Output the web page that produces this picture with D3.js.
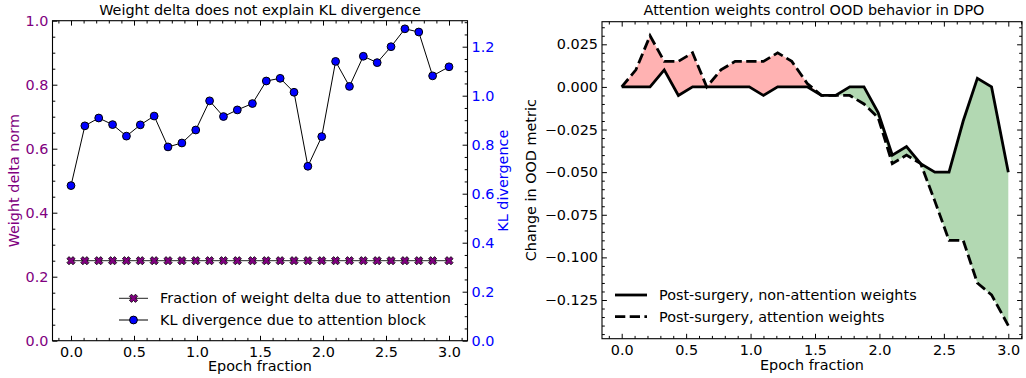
<!DOCTYPE html>
<html>
<head>
<meta charset="utf-8">
<script src="https://d3js.org/d3.v7.min.js"></script>
<style>
  body { margin: 0; background: #fff; }
  svg text { font-family: "DejaVu Sans", sans-serif; font-size: 14.4px; }
</style>
</head>
<body>
<svg id="chart" width="1026" height="378"></svg>
<script>
// ---- data ----
var epochs = [0, 0.11, 0.22, 0.33, 0.44, 0.55, 0.66, 0.77, 0.88, 0.99, 1.1, 1.21, 1.32, 1.44,
              1.55, 1.66, 1.77, 1.88, 1.99, 2.1, 2.21, 2.32, 2.43, 2.54, 2.65, 2.76, 2.87, 3.0];

var attnFraction = epochs.map(function() { return 0.25; });
var klDivergence = [0.633, 0.877, 0.909, 0.882, 0.835, 0.881, 0.917, 0.791, 0.807, 0.860,
                    0.979, 0.915, 0.942, 0.968, 1.060, 1.071, 1.014, 0.712, 0.833, 1.140,
                    1.038, 1.161, 1.135, 1.200, 1.273, 1.260, 1.081, 1.118];

var nonAttnChange = [0, 0, 0, 0.01, -0.005, 0, 0, 0, 0, 0, -0.005, 0, 0, 0,
                     -0.005, -0.005, 0, 0, -0.015, -0.04, -0.035, -0.045, -0.05, -0.05,
                     -0.02, 0.005, 0, -0.05];
var attnChange = [0, 0.01, 0.03, 0.015, 0.015, 0.02, 0, 0.01, 0.015, 0.015, 0.015, 0.02, 0.015, 0.002,
                  -0.005, -0.005, -0.005, -0.01, -0.018, -0.045, -0.04, -0.045, -0.067, -0.09,
                  -0.09, -0.115, -0.122, -0.14];

var xMajor = [0, 0.5, 1, 1.5, 2, 2.5, 3];
var leftYTicks = [0, 0.2, 0.4, 0.6, 0.8, 1.0];
var klTicks = [0, 0.2, 0.4, 0.6, 0.8, 1.0, 1.2];
var oodTicks = [-0.125, -0.1, -0.075, -0.05, -0.025, 0, 0.025];

var titles = ["Weight delta does not explain KL divergence", "Attention weights control OOD behavior in DPO"];
var legendLeft = ["Fraction of weight delta due to attention", "KL divergence due to attention block"];
var legendRight = ["Post-surgery, non-attention weights", "Post-surgery, attention weights"];

var svg = d3.select("#chart");
var PURPLE = "#800080", BLUE = "#0000ff";
var MAJ = 4.9, MIN = 2.8;

function steps(a, b, s) {
  var out = [];
  for (var i = Math.round(a / s); i * s <= b + 1e-9; i++) out.push(+(i * s).toFixed(6));
  return out;
}
function minorOf(list, majors) {
  return list.filter(function(v) {
    return !majors.some(function(m) { return Math.abs(m - v) < 1e-9; });
  });
}

function addAxis(g, axis) {
  g.call(axis);
  g.select(".domain").remove();
  g.selectAll(".tick line").attr("stroke", "#000");
  g.selectAll(".tick text").attr("font-size", null).attr("font-family", null);
  return g;
}

// ---- left panel ----
var L = {x0: 52.5, x1: 467.5, y0: 20.7, y1: 340.7};
var xL = d3.scaleLinear().domain([0, 3]).range([71, 449]);
var yL = d3.scaleLinear().domain([0, 1]).range([L.y1, L.y0]);
var yK = d3.scaleLinear().domain([0, 1.2]).range([L.y1, 46.7]);

var xMinorL = minorOf(steps(-0.1, 3.1, 0.1), xMajor);

var gl = svg.append("g");
addAxis(gl.append("g").attr("transform", "translate(0," + L.y1 + ")"),
  d3.axisBottom(xL).tickValues(xMajor).tickSize(-MAJ).tickPadding(6).tickFormat(d3.format(".1f")));
addAxis(gl.append("g").attr("transform", "translate(0," + L.y1 + ")"),
  d3.axisBottom(xL).tickValues(xMinorL).tickSize(-MIN).tickFormat(""));
addAxis(gl.append("g").attr("transform", "translate(0," + L.y0 + ")"),
  d3.axisTop(xL).tickValues(xMajor).tickSize(-MAJ).tickFormat(""));
addAxis(gl.append("g").attr("transform", "translate(0," + L.y0 + ")"),
  d3.axisTop(xL).tickValues(xMinorL).tickSize(-MIN).tickFormat(""));

var ly = addAxis(gl.append("g").attr("transform", "translate(" + L.x0 + ",0)"),
  d3.axisLeft(yL).tickValues(leftYTicks).tickSize(-MAJ).tickPadding(4).tickFormat(d3.format(".1f")));
ly.selectAll(".tick text").attr("fill", PURPLE);
addAxis(gl.append("g").attr("transform", "translate(" + L.x0 + ",0)"),
  d3.axisLeft(yL).tickValues(minorOf(steps(0, 1, 0.05), leftYTicks)).tickSize(-MIN).tickFormat(""));

var ky = addAxis(gl.append("g").attr("transform", "translate(" + L.x1 + ",0)"),
  d3.axisRight(yK).tickValues(klTicks).tickSize(-MAJ).tickPadding(4).tickFormat(d3.format(".1f")));
ky.selectAll(".tick text").attr("fill", BLUE);
addAxis(gl.append("g").attr("transform", "translate(" + L.x1 + ",0)"),
  d3.axisRight(yK).tickValues(minorOf(steps(0, 1.3, 0.05), klTicks)).tickSize(-MIN).tickFormat(""));

gl.append("rect").attr("x", L.x0).attr("y", L.y0).attr("width", L.x1 - L.x0).attr("height", L.y1 - L.y0)
  .attr("fill", "none").attr("stroke", "#000").attr("stroke-width", 1.1);

function xMarkPath(a, b) {
  var pts = [[-b,-a],[b,-a],[b,-b],[a,-b],[a,b],[b,b],[b,a],[-b,a],[-b,b],[-a,b],[-a,-b],[-b,-b]];
  var c = Math.SQRT1_2;
  return "M" + pts.map(function(p) { return [(p[0] - p[1]) * c, (p[0] + p[1]) * c].join(","); }).join("L") + "Z";
}
var XM = xMarkPath(4.3, 1.5);

var lineFrac = d3.line().x(function(d, i) { return xL(epochs[i]); }).y(function(d) { return yL(d); });
gl.append("path").datum(attnFraction).attr("d", lineFrac)
  .attr("fill", "none").attr("stroke", "#222").attr("stroke-width", 1);
gl.selectAll(".xm").data(attnFraction).enter().append("path")
  .attr("transform", function(d, i) { return "translate(" + xL(epochs[i]) + "," + yL(d) + ")"; })
  .attr("d", XM).attr("fill", PURPLE).attr("stroke", "#000").attr("stroke-width", 0.8);

var lineKL = d3.line().x(function(d, i) { return xL(epochs[i]); }).y(function(d) { return yK(d); });
gl.append("path").datum(klDivergence).attr("d", lineKL)
  .attr("fill", "none").attr("stroke", "#000").attr("stroke-width", 1);
gl.selectAll(".kl").data(klDivergence).enter().append("circle")
  .attr("cx", function(d, i) { return xL(epochs[i]); }).attr("cy", function(d) { return yK(d); })
  .attr("r", 3.9).attr("fill", BLUE).attr("stroke", "#000").attr("stroke-width", 1);

gl.append("text").attr("x", (L.x0 + L.x1) / 2).attr("y", 15).attr("text-anchor", "middle").text(titles[0]);
gl.append("text").attr("x", (L.x0 + L.x1) / 2).attr("y", 371).attr("text-anchor", "middle").text("Epoch fraction");
gl.append("text").attr("transform", "translate(19," + (L.y0 + L.y1) / 2 + ") rotate(-90)")
  .attr("text-anchor", "middle").attr("fill", PURPLE).text("Weight delta norm");
gl.append("text").attr("transform", "translate(508," + (L.y0 + L.y1) / 2 + ") rotate(-90)")
  .attr("text-anchor", "middle").attr("fill", BLUE).text("KL divergence");

// left legend
var lg = gl.append("g");
[298.3, 320].forEach(function(y, k) {
  lg.append("line").attr("x1", 119).attr("x2", 148).attr("y1", y).attr("y2", y)
    .attr("stroke", k === 0 ? "#222" : "#000").attr("stroke-width", 1);
  if (k === 0) {
    lg.append("path").attr("transform", "translate(133.5," + y + ")").attr("d", XM)
      .attr("fill", PURPLE).attr("stroke", "#000").attr("stroke-width", 0.8);
  } else {
    lg.append("circle").attr("cx", 133.5).attr("cy", y).attr("r", 3.9)
      .attr("fill", BLUE).attr("stroke", "#000").attr("stroke-width", 1);
  }
  lg.append("text").attr("x", 160).attr("y", y + 5).text(legendLeft[k]);
});

// ---- right panel ----
var R = {x0: 602, x1: 1022, y0: 21.7, y1: 338.7};
var xR = d3.scaleLinear().domain([0, 3]).range([621.7, 1008.3]);
var yR = d3.scaleLinear().domain([-0.125, 0.025]).range([300, 44.3]);
var xMinorR = minorOf(steps(-0.1, 3.1, 0.1), xMajor);
var yMinorR = minorOf(steps(-0.145, 0.035, 0.005), oodTicks);

var gr = svg.append("g");

// fills between the two curves
var pinkArea = d3.area()
  .x(function(d, i) { return xR(epochs[i]); })
  .y0(function(d, i) { return yR(nonAttnChange[i]); })
  .y1(function(d, i) { return yR(Math.max(d, nonAttnChange[i])); });
var greenArea = d3.area()
  .x(function(d, i) { return xR(epochs[i]); })
  .y0(function(d, i) { return yR(nonAttnChange[i]); })
  .y1(function(d, i) { return yR(Math.min(d, nonAttnChange[i])); });
gr.append("path").datum(attnChange).attr("d", pinkArea).attr("fill", "rgb(255,178,178)");
gr.append("path").datum(attnChange).attr("d", greenArea).attr("fill", "rgb(178,216,178)");

var lineR = d3.line().x(function(d, i) { return xR(epochs[i]); }).y(function(d) { return yR(d); });
gr.append("path").datum(nonAttnChange).attr("d", lineR)
  .attr("fill", "none").attr("stroke", "#000").attr("stroke-width", 2.8).attr("stroke-linejoin", "miter");
gr.append("path").datum(attnChange).attr("d", lineR)
  .attr("fill", "none").attr("stroke", "#000").attr("stroke-width", 2.8)
  .attr("stroke-dasharray", "10.3,4.4");

addAxis(gr.append("g").attr("transform", "translate(0," + R.y1 + ")"),
  d3.axisBottom(xR).tickValues(xMajor).tickSize(-MAJ).tickPadding(6).tickFormat(d3.format(".1f")));
addAxis(gr.append("g").attr("transform", "translate(0," + R.y1 + ")"),
  d3.axisBottom(xR).tickValues(xMinorR).tickSize(-MIN).tickFormat(""));
addAxis(gr.append("g").attr("transform", "translate(0," + R.y0 + ")"),
  d3.axisTop(xR).tickValues(xMajor).tickSize(-MAJ).tickFormat(""));
addAxis(gr.append("g").attr("transform", "translate(0," + R.y0 + ")"),
  d3.axisTop(xR).tickValues(xMinorR).tickSize(-MIN).tickFormat(""));
addAxis(gr.append("g").attr("transform", "translate(" + R.x0 + ",0)"),
  d3.axisLeft(yR).tickValues(oodTicks).tickSize(-MAJ).tickPadding(4).tickFormat(d3.format(".3f")));
addAxis(gr.append("g").attr("transform", "translate(" + R.x0 + ",0)"),
  d3.axisLeft(yR).tickValues(yMinorR).tickSize(-MIN).tickFormat(""));
addAxis(gr.append("g").attr("transform", "translate(" + R.x1 + ",0)"),
  d3.axisRight(yR).tickValues(oodTicks).tickSize(-MAJ).tickFormat(""));
addAxis(gr.append("g").attr("transform", "translate(" + R.x1 + ",0)"),
  d3.axisRight(yR).tickValues(yMinorR).tickSize(-MIN).tickFormat(""));

gr.append("rect").attr("x", R.x0).attr("y", R.y0).attr("width", R.x1 - R.x0).attr("height", R.y1 - R.y0)
  .attr("fill", "none").attr("stroke", "#000").attr("stroke-width", 1.1);

gr.append("text").attr("x", 814).attr("y", 15).attr("text-anchor", "middle").text(titles[1]);
gr.append("text").attr("x", (R.x0 + R.x1) / 2).attr("y", 370).attr("text-anchor", "middle").text("Epoch fraction");
gr.append("text").attr("transform", "translate(536," + (R.y0 + R.y1) / 2 + ") rotate(-90)")
  .attr("text-anchor", "middle").text("Change in OOD metric");

var rg = gr.append("g");
[295, 316.7].forEach(function(y, k) {
  var ln = rg.append("line").attr("x1", 615).attr("x2", 647).attr("y1", y).attr("y2", y)
    .attr("stroke", "#000").attr("stroke-width", 2.8);
  if (k === 1) ln.attr("stroke-dasharray", "10.3,4.4");
  rg.append("text").attr("x", 659).attr("y", y + 5).text(legendRight[k]);
});
</script>
</body>
</html>
